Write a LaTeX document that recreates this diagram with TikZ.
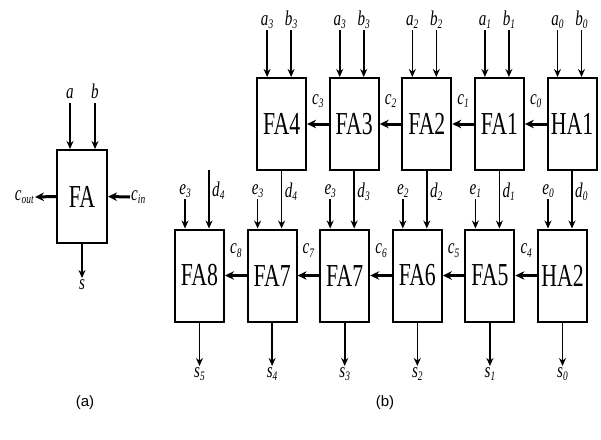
\documentclass[tikz,border=0pt]{standalone}
\usepackage{fontspec}
\usepackage{graphicx}
\setmainfont{Liberation Serif}
\newfontfamily\capfont{Liberation Sans}
\usetikzlibrary{arrows.meta,calc}
\newcommand\sublab[2]{\scalebox{0.72}[1]{\textit{#1}\raisebox{-0.35ex}{\fontsize{13}{13}\selectfont\textit{#2}}}}
\newcommand\boxtxt[1]{\scalebox{0.68}[1]{#1}}
\tikzset{
  box/.style={draw, line width=2pt, minimum width=49pt, minimum height=92pt, inner sep=0pt, font=\fontsize{32}{34}\selectfont},
  sig/.style={line width=1.6pt, -{Stealth[length=8pt,width=7pt]}},
  carry/.style={line width=3pt, -{Stealth[length=9pt,width=8.5pt]}},
  lbl/.style={font=\fontsize{21}{23}\selectfont, inner sep=1pt},
  captxt/.style={font=\capfont\fontsize{15}{17}\selectfont, inner sep=0pt},
}
\begin{document}
\begin{tikzpicture}[x=1pt,y=-1pt]
\useasboundingbox (0,0) rectangle (601,439);
% ---------- (a) ----------
\node[box, minimum width=50pt, minimum height=93pt] (fa) at (82,196.5) {\boxtxt{FA}};
\coordinate (la) at (70,103);
\coordinate (lb) at (95,103);
\coordinate (lco) at (35,197);
\coordinate (lci) at (130,197);
\coordinate (ls) at (82,278);
\draw[sig] (la) -- (la |- fa.north);
\draw[sig] (lb) -- (lb |- fa.north);
\node[lbl, anchor=south] (laL) at (la) {\sublab{a}{}};
\node[lbl, anchor=south] (lbL) at (lb) {\sublab{b}{}};
\draw[carry] (fa.west) -- (lco);
\draw[carry] (lci) -- (fa.east);
\node[lbl, anchor=east] (lcoL) at (lco) {\sublab{c}{out}};
\node[lbl, anchor=west] (lciL) at (lci) {\sublab{c}{in}};
\draw[sig] (fa.south) -- (ls);
\node[lbl, anchor=north] (lsL) at (ls) {\sublab{s}{}};
\node[captxt] (capa) at (85,403) {(a)};
% ---------- (b) top row ----------
\foreach \i/\nm/\n in {0/FA4/3, 1/FA3/3, 2/FA2/2, 3/FA1/1, 4/HA1/0}{
  \pgfmathsetmacro\L{257.1+72.6*\i}
  \node[box] (t\i) at (\L+24.5,124) {\boxtxt{\nm}};
  \coordinate (ta\i) at (\L+10,30);
  \coordinate (tb\i) at (\L+34,30);
  \draw[sig] (ta\i) -- (ta\i |- t\i.north);
  \draw[sig] (tb\i) -- (tb\i |- t\i.north);
  \node[lbl, anchor=south] (taL\i) at (ta\i) {\sublab{a}{\n}};
  \node[lbl, anchor=south] (tbL\i) at (tb\i) {\sublab{b}{\n}};
}
\foreach \i/\j/\c in {0/1/3, 1/2/2, 2/3/1, 3/4/0}{
  \draw[carry] (t\j.west) -- (t\i.east);
  \node[lbl] (tc\i) at ($(t\i.east)!0.5!(t\j.west)+(0,-23)$) {\sublab{c}{\c}};
}
% ---------- (b) bottom row ----------
\foreach \j/\nm/\e/\s in {0/FA8/3/5, 1/FA7/3/4, 2/FA7/3/3, 3/FA6/2/2, 4/FA5/1/1, 5/HA2/0/0}{
  \pgfmathsetmacro\L{175+72.6*\j}
  \node[box] (b\j) at (\L+24.5,275.5) {\boxtxt{\nm}};
  \coordinate (be\j) at (\L+10,199);
  \draw[sig] (be\j) -- (be\j |- b\j.north);
  \node[lbl, anchor=south] (beL\j) at (be\j) {\sublab{e}{\e}};
  \coordinate (bs\j) at (\L+24.5,366);
  \draw[sig] (b\j.south) -- (bs\j);
  \node[lbl, anchor=north] (bsL\j) at (bs\j) {\sublab{s}{\s}};
}
% d inputs
\coordinate (bd0) at (175+34,170);
\draw[sig] (bd0) -- (bd0 |- b0.north);
\node[lbl, anchor=west] (bdL0) at ($(bd0)+(2,21)$) {\sublab{d}{4}};
\foreach \i/\j/\d in {0/1/4, 1/2/3, 2/3/2, 3/4/1, 4/5/0}{
  \draw[sig] (t\i.south) -- (t\i.south |- b\j.north);
  \node[lbl, anchor=west] (bdL\j) at ($(t\i.south)+(2,21)$) {\sublab{d}{\d}};
}
\foreach \i/\j/\c in {0/1/8, 1/2/7, 2/3/6, 3/4/5, 4/5/4}{
  \draw[carry] (b\j.west) -- (b\i.east);
  \node[lbl] (bc\i) at ($(b\i.east)!0.5!(b\j.west)+(0,-25)$) {\sublab{c}{\c}};
}
\node[captxt] (capb) at (385,403) {(b)};
\end{tikzpicture}
\end{document}
